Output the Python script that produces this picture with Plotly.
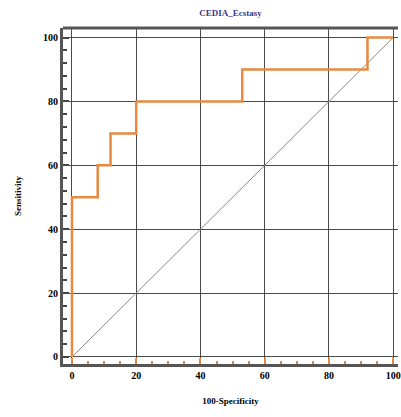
import plotly.graph_objects as go

title = "CEDIA_Ecstasy"
fpr = [0, 0, 8, 8, 12, 12, 20, 20, 53, 53, 92, 92, 100]
tpr = [0, 50, 50, 60, 60, 70, 70, 80, 80, 90, 90, 100, 100]
diag_x = [0, 100]
diag_y = [0, 100]
tick_vals = [0, 20, 40, 60, 80, 100]

font_fam = "Liberation Serif"
fig = go.Figure()
fig.add_trace(go.Scatter(x=diag_x, y=diag_y, mode="lines",
                         line=dict(color="#8a8a8a", width=1), hoverinfo="skip"))
fig.add_trace(go.Scatter(x=fpr, y=tpr, mode="lines",
                         line=dict(color="#E8893F", width=2.5, shape="linear")))

fig.update_layout(
    width=401, height=417, showlegend=False,
    paper_bgcolor="white", plot_bgcolor="white",
    margin=dict(l=63, r=0, t=28, b=53),
    title=dict(text="<b>" + title + "</b>", x=0.5, xanchor="center", xref="paper",
               y=1, yref="container", yanchor="top", pad=dict(t=10),
               font=dict(family=font_fam, size=9, color="#3b3a8a")),
)
fig.update_xaxes(range=[-2.8, 101.5], tickvals=tick_vals, showgrid=True,
                 gridcolor="#4a4a4a", gridwidth=1, zeroline=False,
                 showline=True, linecolor="#555555", linewidth=3,
                 ticks="inside", ticklen=6, tickcolor="#E8893F", tickwidth=2,
                 ticklabeloverflow="allow",
                 minor=dict(dtick=5, ticks="inside", ticklen=3, tickcolor="#E8893F", tickwidth=2),
                 tickfont=dict(family=font_fam, size=10, color="black", weight="bold"),
                 title=dict(text="<b>100-Specificity</b>", standoff=18,
                            font=dict(family=font_fam, size=9, color="black")))
fig.update_yaxes(range=[-2.2, 103], tickvals=tick_vals, showgrid=True,
                 gridcolor="#4a4a4a", gridwidth=1, zeroline=False,
                 showline=True, linecolor="#555555", linewidth=3,
                 ticks="inside", ticklen=6, tickcolor="#444444", tickwidth=1.5,
                 minor=dict(dtick=4, ticks="inside", ticklen=4, tickcolor="#444444", tickwidth=1.5),
                 tickfont=dict(family=font_fam, size=10, color="black", weight="bold"),
                 title=dict(text="<b>Sensitivity</b>", standoff=20,
                            font=dict(family=font_fam, size=9, color="black")))
fig.add_shape(type="line", xref="paper", yref="paper", x0=0, x1=1, y0=1, y1=1,
              line=dict(color="#555555", width=3))

fig.write_html("out.html")
